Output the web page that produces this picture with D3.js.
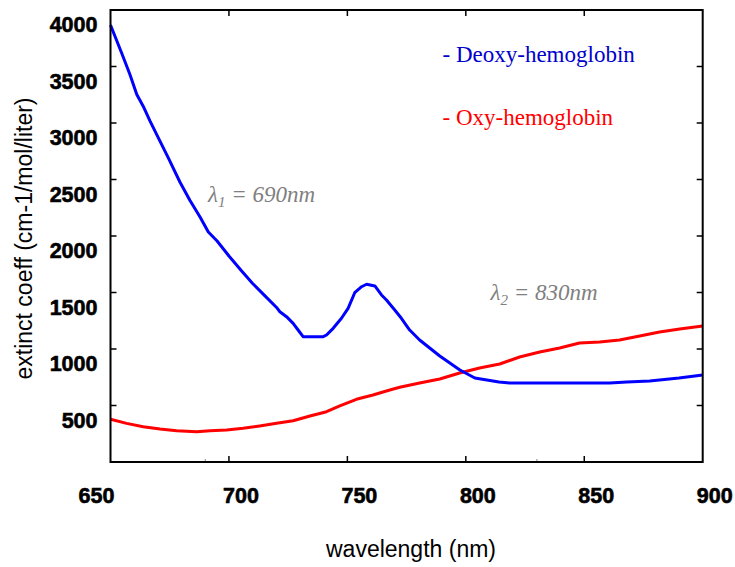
<!DOCTYPE html>
<html><head><meta charset="utf-8">
<script src="https://cdn.jsdelivr.net/npm/d3@7"></script>
<style>body{margin:0;background:#fff}svg{display:block}</style>
</head><body>
<script>
// ---- data ----
const deoxyWl  = [650,654.7,658.2,661.1,663.8,666.7,670.2,674.4,679.3,683.5,687.8,691.3,695,700,705,710,715,720,721.5,724.3,727.1,729.2,731.3,735,739.8,741.2,744,747.5,750.3,753.1,756,758.1,761.6,764.4,766.5,770,772.8,776.3,780.5,789,797.5,803.8,814,818.5,830,845,860.7,868,877.6,890,900];
const deoxyVal = [3867,3620,3429,3252,3149,3016,2869,2692,2478,2316,2168,2035,1956,1823,1699,1580,1475,1370,1330,1286,1227,1168,1109,1109,1109,1124,1183,1272,1360,1498,1551,1573,1558,1478,1434,1345,1272,1168,1080,938,814,743,708,699,699,699,699,708,717,743,770];
const oxyWl  = [650,656.8,663.8,670.9,677.9,686.4,692,699,706,713,720.1,727.1,734.2,741.2,746.8,753.8,760.8,767.9,772.1,780.5,789,797.4,805.8,814.3,822.7,831.2,839.6,848,856.5,864.9,873.4,881.8,890.3,900];
const oxyVal = [378,342,312,292,277,268,277,283,298,319,342,365,407,445,496,555,593,637,661,699,734,788,832,867,929,973,1009,1053,1062,1080,1115,1150,1177,1204];
const xTicks = [650,700,750,800,850,900];
const yTicks = [500,1000,1500,2000,2500,3000,3500,4000];
const markWl = [690,830];
const legendLabels = ["- Deoxy-hemoglobin","- Oxy-hemoglobin"];

const W=735,H=567;
const L=110.5,R=702.7,T=10,B=462;
const x=d3.scaleLinear().domain([650,900]).range([L,R]);
const y=d3.scaleLinear().domain([0,4000]).range([B,T]);

const svg=d3.select("body").append("svg").attr("width",W).attr("height",H);

// lines
const line=d3.line().x(d=>x(d[0])).y(d=>y(d[1]));
svg.append("path").datum(oxyWl.map((w,i)=>[w,oxyVal[i]]))
  .attr("d",line).attr("fill","none").attr("stroke","#ff0000").attr("stroke-width",3).attr("stroke-linejoin","round");
svg.append("path").datum(deoxyWl.map((w,i)=>[w,deoxyVal[i]]))
  .attr("d",line).attr("fill","none").attr("stroke","#0000ff").attr("stroke-width",3).attr("stroke-linejoin","round");

// frame
svg.append("rect").attr("x",L).attr("y",T).attr("width",R-L).attr("height",B-T)
  .attr("fill","none").attr("stroke","#000").attr("stroke-width",2);

// ticks (inward, all four sides)
const tk=6;
const g=svg.append("g").attr("stroke","#000").attr("stroke-width",1.5);
xTicks.slice(1,-1).forEach(v=>{
  g.append("line").attr("x1",x(v)).attr("x2",x(v)).attr("y1",B).attr("y2",B-tk);
  g.append("line").attr("x1",x(v)).attr("x2",x(v)).attr("y1",T).attr("y2",T+tk);
});
yTicks.slice(0,-1).forEach(v=>{
  g.append("line").attr("x1",L).attr("x2",L+tk).attr("y1",y(v)).attr("y2",y(v));
  g.append("line").attr("x1",R).attr("x2",R-tk).attr("y1",y(v)).attr("y2",y(v));
});
markWl.forEach(v=>{
  svg.append("line").attr("x1",x(v)).attr("x2",x(v)).attr("y1",B-1).attr("y2",B-3)
    .attr("stroke","#888").attr("stroke-width",1);
});

// tick labels
const lab={"font-family":"Liberation Sans, Arial, sans-serif","font-weight":"bold","font-size":"21.5px","fill":"#000","stroke":"#000","stroke-width":"0.6px"};
xTicks.forEach(v=>{
  const t=svg.append("text").attr("x",x(v)+(v===650?-14:12)).attr("y",495).attr("dy","0.36em")
    .attr("text-anchor","middle").text(v);
  Object.entries(lab).forEach(([k,val])=>t.style(k,val));
});
yTicks.forEach(v=>{
  const t=svg.append("text").attr("x",97.5).attr("y",y(v)+14.5).attr("dy","0.36em")
    .attr("text-anchor","end").text(v);
  Object.entries(lab).forEach(([k,val])=>t.style(k,val));
});

// axis titles
const tf="Liberation Sans, Arial, sans-serif";
svg.append("text").attr("x",411).attr("y",557).attr("text-anchor","middle")
  .style("font-family",tf).style("font-size","23px").text("wavelength (nm)");
svg.append("text").attr("transform","translate(32,238.5) rotate(-90)").attr("text-anchor","middle")
  .style("font-family",tf).style("font-size","23px").text("extinct coeff (cm-1/mol/liter)");

// legend
const sf="Liberation Serif, Times New Roman, serif";
svg.append("text").attr("x",442.5).attr("y",61.5).style("font-family",sf).style("font-size","23px")
  .attr("fill","#0000cc").text(legendLabels[0]);
svg.append("text").attr("x",442.5).attr("y",125).style("font-family",sf).style("font-size","23px")
  .attr("fill","#ff0000").text(legendLabels[1]);

// lambda annotations
function lam(xp,yp,sub,txt){
  const t=svg.append("text").attr("x",xp).attr("y",yp).style("font-family",sf)
    .style("font-style","italic").style("font-size","23px").attr("fill","#808080");
  t.append("tspan").text("λ");
  t.append("tspan").attr("dy",5).style("font-size","15px").text(sub);
  t.append("tspan").attr("dy",-5).text(" = "+txt);
}
lam(208,201.5,"1","690nm");
lam(490.5,300,"2","830nm");
</script>
</body></html>
